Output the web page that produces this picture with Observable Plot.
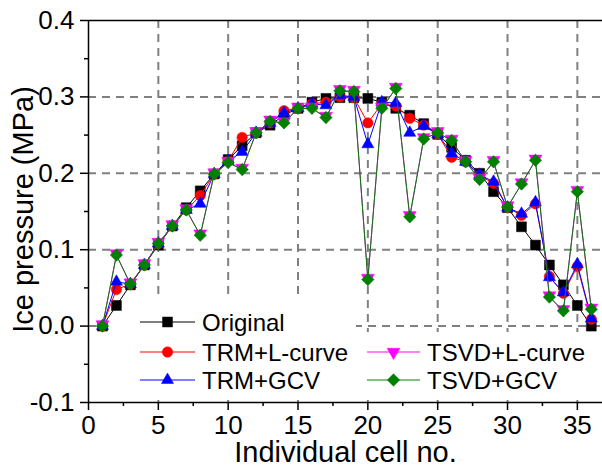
<!DOCTYPE html>
<html>
<head>
<meta charset="utf-8">
<script src="https://cdn.jsdelivr.net/npm/d3@7"></script>
<script src="https://cdn.jsdelivr.net/npm/@observablehq/plot@0.6"></script>
<style>
  html, body { margin: 0; padding: 0; background: white; }
  #chart { width: 602px; height: 471px; }
</style>
</head>
<body>
<div id="chart"></div>
<script>
// ---- data ----
const cells = [1,2,3,4,5,6,7,8,9,10,11,12,13,14,15,16,17,18,19,20,21,22,23,24,25,26,27,28,29,30,31,32,33,34,35,36];
const original = [0.000,0.027,0.054,0.080,0.106,0.131,0.155,0.177,0.199,0.218,0.236,0.253,0.263,0.276,0.285,0.293,0.298,0.299,0.299,0.298,0.293,0.285,0.276,0.265,0.251,0.234,0.217,0.200,0.176,0.155,0.130,0.106,0.080,0.054,0.027,0.000];
const trmLcurve = [0.000,0.048,0.055,0.080,0.108,0.131,0.152,0.171,0.199,0.216,0.247,0.253,0.266,0.282,0.285,0.291,0.293,0.300,0.299,0.266,0.291,0.288,0.272,0.263,0.251,0.221,0.215,0.197,0.187,0.155,0.145,0.160,0.065,0.043,0.078,0.009];
const trmGcv = [0.000,0.058,0.055,0.080,0.108,0.131,0.152,0.160,0.199,0.216,0.228,0.253,0.266,0.279,0.285,0.291,0.289,0.302,0.300,0.238,0.293,0.292,0.253,0.262,0.251,0.226,0.215,0.198,0.189,0.155,0.147,0.162,0.064,0.044,0.081,0.010];
const tsvdLcurve = [0.000,0.093,0.055,0.080,0.108,0.131,0.152,0.119,0.199,0.214,0.205,0.253,0.268,0.266,0.285,0.285,0.273,0.308,0.307,0.061,0.285,0.311,0.143,0.245,0.253,0.243,0.215,0.192,0.215,0.156,0.186,0.217,0.038,0.020,0.176,0.022];
const tsvdGcv = [0.000,0.093,0.055,0.080,0.108,0.131,0.152,0.119,0.199,0.214,0.205,0.253,0.268,0.266,0.285,0.285,0.273,0.308,0.307,0.061,0.285,0.311,0.143,0.245,0.253,0.243,0.215,0.192,0.215,0.156,0.186,0.217,0.038,0.020,0.176,0.022];
const seriesNames = ["Original", "TRM+L-curve", "TRM+GCV", "TSVD+L-curve", "TSVD+GCV"];

const xTicks = [0, 5, 10, 15, 20, 25, 30, 35];
const xMinorTicks = [2.5, 7.5, 12.5, 17.5, 22.5, 27.5, 32.5];
const xGridTicks = [5, 10, 15, 20, 25, 30, 35];
const yTicks = [-0.1, 0.0, 0.1, 0.2, 0.3, 0.4];
const yMinorTicks = [-0.05, 0.05, 0.15, 0.25, 0.35];
const yGridTicks = [0.0, 0.1, 0.2, 0.3];
const xDomain = [0, 36.8];
const yDomain = [-0.1, 0.4];

// ---- styles ----
const triDown = {
  draw(ctx, size) {
    const s = Math.sqrt(size * 4 / Math.sqrt(3));
    const h = s * Math.sqrt(3) / 2;
    ctx.moveTo(0, h * 2 / 3);
    ctx.lineTo(-s / 2, -h / 3);
    ctx.lineTo(s / 2, -h / 3);
    ctx.closePath();
  }
};
const styles = {
  "Original":     {color: "#000000", symbol: d3.symbolSquare,   r: 5.6, values: original},
  "TRM+L-curve":  {color: "#ff0000", symbol: d3.symbolCircle,   r: 5.2, values: trmLcurve},
  "TRM+GCV":      {color: "#0000ff", symbol: d3.symbolTriangle, r: 4.5, values: trmGcv},
  "TSVD+L-curve": {color: "#ff00ff", symbol: triDown,           r: 4.8, values: tsvdLcurve},
  "TSVD+GCV":     {color: "#008000", symbol: d3.symbolDiamond2, r: 5.6, values: tsvdGcv}
};

const seriesMarks = [];
for (const name of seriesNames) {
  const st = styles[name];
  const rows = cells.map((c, i) => ({cell: c, value: st.values[i]}));
  seriesMarks.push(Plot.line(rows, {x: "cell", y: "value", stroke: st.color, strokeWidth: 1}));
  seriesMarks.push(Plot.dot(rows, {x: "cell", y: "value", symbol: st.symbol, r: st.r, fill: st.color, stroke: st.color, strokeWidth: 0.5, dy: name === "TSVD+L-curve" ? -1.5 : 0}));
}

const font = "'Liberation Sans', Arial, Helvetica, sans-serif";

const chart = Plot.plot({
  width: 602,
  height: 471,
  marginLeft: 88,
  marginRight: 0,
  marginTop: 20,
  marginBottom: 69,
  x: {domain: xDomain},
  y: {domain: yDomain},
  style: {fontFamily: font, fontSize: "26px", background: "white", color: "black", overflow: "visible"},
  marks: [
    Plot.gridX(xGridTicks, {stroke: "#808080", strokeOpacity: 1, strokeWidth: 2, strokeDasharray: "8,6"}),
    Plot.gridY(yGridTicks, {stroke: "#808080", strokeOpacity: 1, strokeWidth: 2, strokeDasharray: "8,6"}),
    ...seriesMarks,
    Plot.ruleX([xDomain[0]], {stroke: "black", strokeWidth: 1.5}),
    Plot.ruleY([yDomain[0]], {stroke: "black", strokeWidth: 1.5}),
    Plot.ruleY([yDomain[1]], {stroke: "black", strokeWidth: 1.5}),
    Plot.axisX(xTicks, {tickSize: 8, tickPadding: 5, tickFormat: d => String(d), label: null, fontSize: 26, strokeWidth: 1.5}),
    Plot.axisX(xMinorTicks, {tickSize: 4, tickFormat: () => "", label: null, strokeWidth: 1.5}),
    Plot.axisY(yTicks, {tickSize: 8, tickPadding: 6, tickFormat: d => d.toFixed(1), label: null, fontSize: 26, strokeWidth: 1.5}),
    Plot.axisY(yMinorTicks, {tickSize: 4, tickFormat: () => "", label: null, strokeWidth: 1.5}),
    Plot.text(["Individual cell no."], {text: d => d, frameAnchor: "bottom", lineAnchor: "middle", textAnchor: "middle", dy: 50, fontSize: 29, fill: "black"}),
    Plot.text(["Ice pressure (MPa)"], {text: d => d, frameAnchor: "left", lineAnchor: "middle", textAnchor: "middle", rotate: -90, dx: -65, dy: -2, fontSize: 29, fill: "black"})
  ]
});

document.getElementById("chart").appendChild(chart);

// ---- legend (inside plot, with white background hiding grid) ----
const svg = d3.select(chart);
const firstLine = chart.querySelector('g[aria-label="line"]');
const bgBoxes = [
  {x: 100, y: 300, w: 256, h: 100},
  {x: 356, y: 332, w: 246, h: 68}
];
for (const b of bgBoxes) {
  const rect = document.createElementNS("http://www.w3.org/2000/svg", "rect");
  rect.setAttribute("x", b.x); rect.setAttribute("y", b.y);
  rect.setAttribute("width", b.w); rect.setAttribute("height", b.h);
  rect.setAttribute("fill", "white");
  chart.insertBefore(rect, firstLine);
}

const legendLayout = [
  {name: "Original",     x0: 140, x1: 195, tx: 202, cy: 322},
  {name: "TRM+L-curve",  x0: 140, x1: 195, tx: 202, cy: 352},
  {name: "TRM+GCV",      x0: 140, x1: 195, tx: 202, cy: 380},
  {name: "TSVD+L-curve", x0: 367, x1: 420, tx: 427, cy: 352},
  {name: "TSVD+GCV",     x0: 367, x1: 420, tx: 427, cy: 380}
];
const lg = svg.append("g").attr("font-family", font).attr("font-size", 24).attr("text-anchor", "start");
for (const item of legendLayout) {
  const st = styles[item.name];
  lg.append("line")
    .attr("x1", item.x0).attr("x2", item.x1)
    .attr("y1", item.cy).attr("y2", item.cy)
    .attr("stroke", st.color).attr("stroke-width", 1);
  lg.append("path")
    .attr("transform", `translate(${(item.x0 + item.x1) / 2},${item.cy})`)
    .attr("d", d3.symbol().type(st.symbol).size(Math.PI * st.r * st.r)())
    .attr("fill", st.color).attr("stroke", st.color).attr("stroke-width", 0.5);
  lg.append("text")
    .attr("x", item.tx).attr("y", item.cy + 8.5)
    .attr("fill", "black")
    .attr("text-anchor", "start")
    .text(item.name);
}
</script>
</body>
</html>
